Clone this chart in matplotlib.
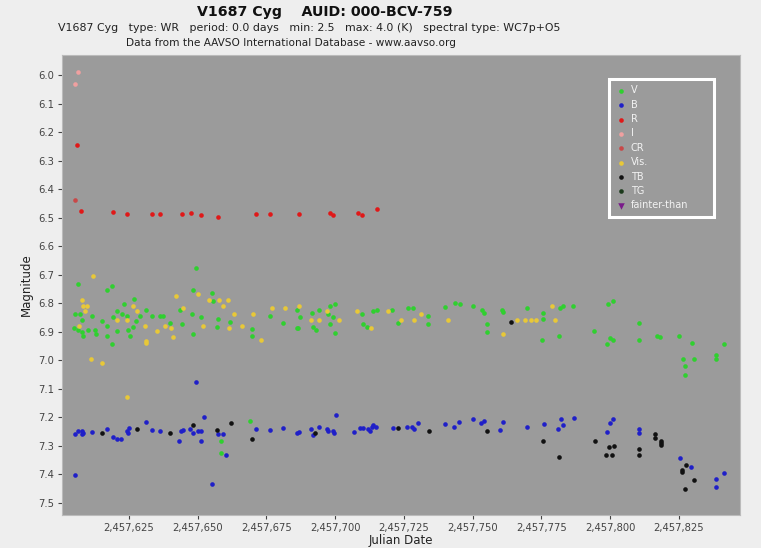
import matplotlib
matplotlib.use("Agg")
import matplotlib.pyplot as plt
from matplotlib.ticker import FuncFormatter, MultipleLocator
import numpy as np

JD0 = 2457600.0  # day offsets below are relative to this Julian Date

# V band
v_day = [6.55, 5.35, 7.17, 7.79, 4.98, 6.55, 7.79, 8.37, 11.42, 10.19, 12.62, 12.99, 15.06, 16.88,
         18.70, 16.88, 16.88, 18.70, 19.28, 20.52, 20.74, 22.34, 23.28, 24.16, 24.74, 25.36, 26.34,
         26.92, 27.54, 29.0, 31.18, 33.25, 36.27, 37.47, 39.91, 43.55, 44.17, 47.80, 48.17, 48.17,
         49.37, 51.30, 55.19, 55.66, 56.90, 57.48, 61.74, 69.85, 69.85, 76.29, 81.13, 86.00, 86.00,
         87.21, 86.59, 91.46, 92.04, 93.03, 94.23, 97.50, 98.12, 99.94, 98.12, 99.32, 99.94, 109.65,
         110.23, 111.69, 113.87, 115.11, 120.57, 122.97, 126.60, 128.42, 133.88, 133.88, 139.96,
         143.60, 145.42, 150.04, 153.31, 154.15, 155.13, 155.13, 160.59, 161.17, 169.90, 175.72,
         175.72, 175.14, 181.54, 181.80, 182.78, 186.63, 194.27, 199.36, 201.18, 199.98, 201.18,
         198.78, 210.53, 210.53, 216.96, 218.16, 225.19, 229.70, 230.64, 226.42, 227.26, 227.26,
         238.43, 238.43, 241.45, 58.35, 58.35, 69.02]
v_mag = [6.734, 6.839, 6.839, 6.857, 6.885, 6.892, 6.902, 6.916, 6.845, 6.892, 6.892, 6.909, 6.863,
         6.752, 6.740, 6.880, 6.915, 6.944, 6.847, 6.828, 6.898, 6.839, 6.801, 6.843, 6.892, 6.915,
         6.882, 6.784, 6.863, 6.843, 6.822, 6.843, 6.843, 6.843, 6.868, 6.822, 6.871, 6.839, 6.752,
         6.907, 6.676, 6.847, 6.763, 6.793, 6.882, 6.854, 6.866, 6.889, 6.913, 6.845, 6.868, 6.822,
         6.886, 6.847, 6.886, 6.833, 6.882, 6.892, 6.822, 6.839, 6.810, 6.804, 6.874, 6.847, 6.903,
         6.839, 6.874, 6.882, 6.828, 6.825, 6.822, 6.868, 6.817, 6.817, 6.845, 6.872, 6.812, 6.798,
         6.804, 6.808, 6.824, 6.833, 6.872, 6.901, 6.824, 6.829, 6.817, 6.833, 6.854, 6.929, 6.913,
         6.816, 6.808, 6.808, 6.898, 6.801, 6.793, 6.921, 6.927, 6.944, 6.868, 6.927, 6.913, 6.917,
         6.913, 6.938, 6.997, 6.997, 7.020, 7.050, 6.983, 6.994, 6.944, 7.282, 7.325, 7.212]

# B band
b_day = [5.35, 5.35, 6.55, 7.79, 7.79, 8.37, 11.42, 16.88, 19.28, 20.52, 21.97, 24.16, 25.10, 24.74,
         31.18, 33.25, 36.27, 43.29, 43.80, 44.53, 47.19, 48.17, 49.37, 50.20, 51.30, 51.30, 52.28,
         55.08, 57.48, 59.30, 60.28, 71.20, 76.29, 81.13, 86.00, 86.94, 91.10, 92.04, 94.12, 96.92,
         97.28, 99.10, 99.57, 100.30, 106.96, 109.03, 110.23, 112.05, 112.67, 113.29, 113.87, 114.86,
         120.93, 126.02, 127.84, 128.68, 130.14, 139.96, 143.12, 145.05, 150.03, 153.05, 154.15,
         159.97, 161.17, 169.90, 175.98, 180.96, 182.05, 183.00, 187.00, 199.00, 199.98, 201.07,
         210.53, 210.53, 225.45, 229.45, 238.55, 238.55, 241.45]
b_mag = [7.259, 7.402, 7.247, 7.247, 7.259, 7.255, 7.251, 7.239, 7.268, 7.276, 7.274, 7.247, 7.236,
         7.253, 7.216, 7.245, 7.246, 7.282, 7.247, 7.244, 7.239, 7.255, 7.076, 7.246, 7.284, 7.247,
         7.200, 7.434, 7.259, 7.259, 7.330, 7.239, 7.245, 7.236, 7.253, 7.250, 7.241, 7.262, 7.233,
         7.241, 7.247, 7.247, 7.253, 7.193, 7.250, 7.236, 7.237, 7.239, 7.247, 7.233, 7.227, 7.232,
         7.236, 7.232, 7.233, 7.239, 7.218, 7.222, 7.232, 7.216, 7.207, 7.221, 7.212, 7.243, 7.216,
         7.232, 7.224, 7.239, 7.207, 7.225, 7.201, 7.250, 7.218, 7.207, 7.241, 7.254, 7.344, 7.375,
         7.416, 7.445, 7.395]

# R band
r_day = [7.42, 6.18, 19.28, 24.37, 33.25, 36.27, 44.27, 47.44, 51.30, 57.37, 71.20, 76.29, 86.95,
         98.12, 99.21, 108.30, 109.76, 115.22]
r_mag = [6.477, 6.246, 6.480, 6.488, 6.486, 6.488, 6.488, 6.484, 6.490, 6.498, 6.486, 6.486, 6.486,
         6.485, 6.490, 6.485, 6.490, 6.470]

# I band
i_day = [6.44, 5.35]
i_mag = [5.99, 6.03]

# CR
cr_day = [5.35]
cr_mag = [6.437]

# Visual
vis_day = [12.03, 7.79, 8.37, 9.82, 9.0, 6.91, 11.06, 15.06, 24.16, 26.34, 28.01, 24.16, 20.74, 30.92,
           31.07, 31.07, 35.07, 38.09, 40.16, 40.89, 42.09, 44.75, 49.99, 52.02, 54.10, 57.84, 59.08,
           61.12, 61.26, 63.19, 66.10, 70.21, 73.01, 77.13, 81.75, 86.84, 91.10, 94.01, 96.92, 101.28,
           108.05, 112.92, 119.11, 123.84, 128.79, 131.22, 141.15, 160.94, 166.04, 169.06, 171.13,
           173.06, 178.99, 179.98]
vis_mag = [6.705, 6.789, 6.808, 6.808, 6.828, 6.880, 6.997, 7.008, 7.127, 6.808, 6.828, 6.857, 6.857,
           6.880, 6.933, 6.941, 6.898, 6.880, 6.887, 6.919, 6.775, 6.817, 6.769, 6.880, 6.789, 6.789,
           6.808, 6.789, 6.887, 6.837, 6.878, 6.838, 6.927, 6.817, 6.817, 6.808, 6.857, 6.857, 6.828,
           6.857, 6.828, 6.887, 6.828, 6.857, 6.857, 6.837, 6.857, 6.907, 6.857, 6.857, 6.857, 6.857,
           6.808, 6.857]

# TB
tb_day = [15.06, 28.01, 39.91, 48.17, 56.90, 61.99, 69.85, 92.66, 122.85, 134.02, 155.12, 175.49,
          181.54, 194.52, 198.52, 199.50, 200.59, 201.43, 210.53, 210.53, 216.46, 216.46, 218.42,
          218.42, 218.42, 226.28, 226.28, 227.52, 230.43, 227.37, 164.07]
tb_mag = [7.255, 7.241, 7.253, 7.227, 7.245, 7.218, 7.276, 7.253, 7.238, 7.247, 7.247, 7.284, 7.338,
          7.284, 7.330, 7.304, 7.332, 7.301, 7.312, 7.330, 7.259, 7.272, 7.281, 7.290, 7.297, 7.385,
          7.393, 7.367, 7.420, 7.452, 6.865]

# TG and fainter-than (no visible points)
tg_day, tg_mag = [], []
ft_day, ft_mag = [], []

title = "V1687 Cyg    AUID: 000-BCV-759"
subtitle = "V1687 Cyg   type: WR   period: 0.0 days   min: 2.5   max: 4.0 (K)   spectral type: WC7p+O5"
credit = "Data from the AAVSO International Database - www.aavso.org"

W, H = 761, 548
fig = plt.figure(figsize=(W / 100, H / 100), dpi=100, facecolor="#eeeeee")
ax = fig.add_axes([62 / W, 1 - 515 / H, (740 - 62) / W, (515 - 55) / H])
ax.set_facecolor("#9b9b9b")

def jd(days):
    return [JD0 + d for d in days]

s = 11
series = [
    ("V", v_day, v_mag, "#2fd02f", "o"),
    ("B", b_day, b_mag, "#1f1fc8", "o"),
    ("R", r_day, r_mag, "#e01818", "o"),
    ("I", i_day, i_mag, "#f0a0a0", "o"),
    ("CR", cr_day, cr_mag, "#c84848", "o"),
    ("Vis.", vis_day, vis_mag, "#e8c838", "o"),
    ("TB", tb_day, tb_mag, "#111111", "o"),
    ("TG", tg_day, tg_mag, "#1c3a1c", "o"),
    ("fainter-than", ft_day, ft_mag, "#7a1a8a", "v"),
]
for name, d, m, c, mk in series:
    ax.scatter(jd(d), m, s=s if mk == "o" else 22, c=c, marker=mk, linewidths=0, label=name, zorder=3)

ax.set_xlim(JD0 + 0.63, JD0 + 247.26)
ax.set_ylim(7.542, 5.93)
ax.xaxis.set_major_locator(MultipleLocator(25))
ax.yaxis.set_major_locator(MultipleLocator(0.1))
ax.xaxis.set_major_formatter(FuncFormatter(lambda x, p: f"{int(round(x)):,}"))
ax.yaxis.set_major_formatter(FuncFormatter(lambda y, p: f"{y:.1f}"))
ax.tick_params(labelsize=7.2, colors="#444444", length=3, width=0.8, pad=2.5)
for sp in ax.spines.values():
    sp.set_color("#bbbbbb")
    sp.set_linewidth(0.8)

ax.set_xlabel("Julian Date", fontsize=8.5, color="#222222", labelpad=1)
ax.set_ylabel("Magnitude", fontsize=8.5, color="#222222", labelpad=4)

fig.text(325 / W, 1 - 12 / H, title, ha="center", va="center", fontsize=10.2, fontweight="bold",
         color="#111111")
fig.text(58 / W, 1 - 28 / H, subtitle, ha="left", va="center", fontsize=7.9, color="#222222")
fig.text(291 / W, 1 - 43 / H, credit, ha="center", va="center", fontsize=7.6, color="#222222")

leg = ax.legend(loc="upper left", bbox_to_anchor=((609 - 62) / 678, 0.0, (714 - 609) / 678,
                1 - (79 - 55) / 460), mode="expand", fontsize=7, frameon=True, fancybox=False,
                labelspacing=0.45, handletextpad=0.4, borderpad=0.65, markerscale=1.0,
                scatterpoints=1, handlelength=1.2, borderaxespad=0)
fr = leg.get_frame()
fr.set_facecolor("#9b9b9b")
fr.set_edgecolor("white")
fr.set_linewidth(2.2)
fr.set_alpha(1)
for t in leg.get_texts():
    t.set_color("#f2f2f2")

fig.savefig("out.png", dpi=100, facecolor=fig.get_facecolor())
